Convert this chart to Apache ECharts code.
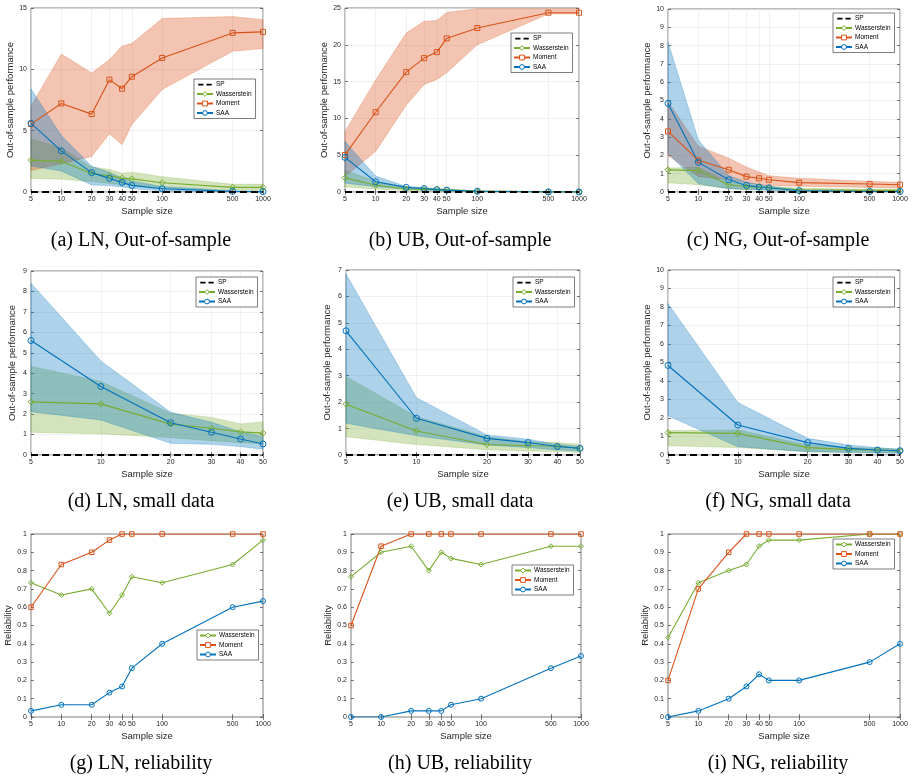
<!DOCTYPE html>
<html>
<head>
<meta charset="utf-8">
<title>Out-of-sample performance and reliability</title>
<script src="https://cdn.jsdelivr.net/npm/echarts@6/dist/echarts.min.js"></script>
<style>
  html, body { margin: 0; padding: 0; background: #fff; }
  #chart { width: 915px; height: 781px; }
</style>
</head>
<body>
<div id="chart"></div>
<script>
// sample sizes
var sampleSizes = [5, 10, 20, 30, 40, 50, 100, 500, 1000];
var smallSizes = [5, 10, 20, 30, 40, 50];
var spGap = [0, 0, 0, 0, 0, 0, 0, 0, 0];

// LN, out-of-sample (mean, upper, lower)
var lnWass   = [2.60, 2.50, 1.51, 1.31, 1.13, 1.07, 0.76, 0.38, 0.38];
var lnWassHi = [4.33, 3.60, 2.04, 1.84, 1.52, 1.62, 1.25, 0.63, 0.63];
var lnWassLo = [1.11, 1.04, 0.85, 0.70, 0.60, 0.55, 0.28, 0.16, 0.16];
var lnMom    = [5.53, 7.22, 6.35, 9.16, 8.42, 9.40, 10.93, 12.97, 13.05];
var lnMomHi  = [7.00, 11.25, 9.70, 10.80, 11.90, 12.10, 14.15, 14.30, 14.05];
var lnMomLo  = [1.75, 2.30, 2.90, 4.75, 3.85, 5.50, 8.35, 11.47, 11.70];
var lnSaa    = [5.60, 3.35, 1.58, 1.11, 0.78, 0.54, 0.27, 0.05, 0.03];
var lnSaaHi  = [8.40, 4.60, 2.09, 1.60, 1.14, 0.90, 0.45, 0.10, 0.08];
var lnSaaLo  = [2.12, 1.71, 0.57, 0.52, 0.41, 0.28, 0.10, 0.01, 0.00];

// UB, out-of-sample
var ubWass   = [1.92, 0.91, 0.40, 0.35, 0.34, 0.25, 0.12, 0.02, 0.02];
var ubWassHi = [2.97, 1.45, 0.69, 0.50, 0.47, 0.40, 0.20, 0.05, 0.05];
var ubWassLo = [0.69, 0.40, 0.20, 0.15, 0.13, 0.10, 0.04, 0.00, 0.00];
var ubMom    = [5.04, 10.84, 16.29, 18.19, 19.01, 20.87, 22.28, 24.36, 24.36];
var ubMomHi  = [8.20, 15.20, 21.60, 23.20, 23.30, 24.40, 24.90, 24.90, 24.90];
var ubMomLo  = [2.10, 5.50, 11.80, 14.60, 15.30, 16.20, 20.00, 24.20, 24.20];
var ubSaa    = [4.70, 1.39, 0.63, 0.47, 0.32, 0.25, 0.10, 0.01, 0.01];
var ubSaaHi  = [6.85, 2.17, 0.76, 0.60, 0.40, 0.33, 0.15, 0.03, 0.03];
var ubSaaLo  = [1.20, 0.73, 0.38, 0.28, 0.19, 0.15, 0.05, 0.00, 0.00];

// NG, out-of-sample
var ngWass   = [1.21, 1.17, 0.40, 0.29, 0.27, 0.22, 0.12, 0.09, 0.09];
var ngWassHi = [1.31, 1.35, 0.54, 0.40, 0.36, 0.32, 0.20, 0.15, 0.15];
var ngWassLo = [0.50, 0.40, 0.18, 0.14, 0.13, 0.11, 0.05, 0.03, 0.03];
var ngMom    = [3.31, 1.73, 1.22, 0.84, 0.75, 0.67, 0.51, 0.44, 0.40];
var ngMomHi  = [4.95, 2.50, 1.85, 1.36, 1.09, 0.89, 0.75, 0.58, 0.53];
var ngMomLo  = [2.00, 0.85, 0.67, 0.49, 0.40, 0.36, 0.31, 0.25, 0.22];
var ngSaa    = [4.84, 1.62, 0.67, 0.36, 0.27, 0.23, 0.07, 0.03, 0.03];
var ngSaaHi  = [8.19, 2.84, 0.90, 0.54, 0.40, 0.31, 0.12, 0.05, 0.05];
var ngSaaLo  = [2.12, 0.45, 0.18, 0.13, 0.11, 0.09, 0.03, 0.01, 0.01];

// reliability
var lnRelWass = [0.7333, 0.6667, 0.7000, 0.5667, 0.6667, 0.7667, 0.7333, 0.8333, 0.9667];
var lnRelMom  = [0.6000, 0.8333, 0.9000, 0.9667, 1, 1, 1, 1, 1];
var lnRelSaa  = [0.0333, 0.0667, 0.0667, 0.1333, 0.1667, 0.2667, 0.4000, 0.6000, 0.6333];
var ubRelWass = [0.7667, 0.9000, 0.9333, 0.8000, 0.9000, 0.8667, 0.8333, 0.9333, 0.9333];
var ubRelMom  = [0.5000, 0.9333, 1, 1, 1, 1, 1, 1, 1];
var ubRelSaa  = [0, 0, 0.0333, 0.0333, 0.0333, 0.0667, 0.1000, 0.2667, 0.3333];
var ngRelWass = [0.4333, 0.7333, 0.8000, 0.8333, 0.9333, 0.9667, 0.9667, 1, 1];
var ngRelMom  = [0.2000, 0.7000, 0.9000, 1, 1, 1, 1, 1, 1];
var ngRelSaa  = [0, 0.0333, 0.1000, 0.1667, 0.2333, 0.2000, 0.2000, 0.3000, 0.4000];

var captions = [
  '(a) LN, Out-of-sample', '(b) UB, Out-of-sample', '(c) NG, Out-of-sample',
  '(d) LN, small data', '(e) UB, small data', '(f) NG, small data',
  '(g) LN, reliability', '(h) UB, reliability', '(i) NG, reliability'
];

var FONT = 'Liberation Sans, Arial, Helvetica, sans-serif';
var INK = '#262626';
var BLUE = '#0072BD', ORANGE = '#D95319', GREEN = '#77AC30';
var BAND = { Wasserstein: 'rgba(119,172,48,0.32)', Moment: 'rgba(217,83,25,0.34)', SAA: 'rgba(0,114,189,0.32)' };
var EDGE = { Wasserstein: 'rgba(119,172,48,0.5)', Moment: 'rgba(217,83,25,0.5)', SAA: 'rgba(0,114,189,0.5)' };
var COLOR = { Wasserstein: GREEN, Moment: ORANGE, SAA: BLUE };
var SYMBOL = { Wasserstein: 'diamond', Moment: 'rect', SAA: 'circle' };
// two thick dashes, like the "- -" legend entry
var DASH_ICON = 'path://M0,0M18,8M0,3h7v2.4h-7zM11,3h7v2.4h-7z';

function cut(a, n) { return a.slice(0, n); }

// one entry per panel
var panels = [
  { rect: [31, 8, 232, 184], xs: sampleSizes, ymax: 15, yint: 5, grid: true, legend: [194, 79], sp: true, yname: 'Out-of-sample performance', gap: 14,
    lines: [['Wasserstein', lnWass, lnWassLo, lnWassHi], ['Moment', lnMom, lnMomLo, lnMomHi], ['SAA', lnSaa, lnSaaLo, lnSaaHi]] },
  { rect: [345, 8, 234, 184], xs: sampleSizes, ymax: 25, yint: 5, grid: true, legend: [511, 33], sp: true, yname: 'Out-of-sample performance', gap: 14,
    lines: [['Wasserstein', ubWass, ubWassLo, ubWassHi], ['Moment', ubMom, ubMomLo, ubMomHi], ['SAA', ubSaa, ubSaaLo, ubSaaHi]] },
  { rect: [668, 9, 232, 183], xs: sampleSizes, ymax: 10, yint: 1, grid: true, legend: [833, 13], sp: true, yname: 'Out-of-sample performance', gap: 14,
    lines: [['Wasserstein', ngWass, ngWassLo, ngWassHi], ['Moment', ngMom, ngMomLo, ngMomHi], ['SAA', ngSaa, ngSaaLo, ngSaaHi]] },
  { rect: [31, 271, 232, 184], xs: smallSizes, ymax: 9, yint: 1, grid: true, legend: [196, 277], sp: true, yname: 'Out-of-sample performance', gap: 14,
    lines: [['Wasserstein', cut(lnWass, 6), cut(lnWassLo, 6), cut(lnWassHi, 6)], ['SAA', cut(lnSaa, 6), cut(lnSaaLo, 6), cut(lnSaaHi, 6)]] },
  { rect: [346, 270, 234, 185], xs: smallSizes, ymax: 7, yint: 1, grid: true, legend: [513, 277], sp: true, yname: 'Out-of-sample performance', gap: 14,
    lines: [['Wasserstein', cut(ubWass, 6), cut(ubWassLo, 6), cut(ubWassHi, 6)], ['SAA', cut(ubSaa, 6), cut(ubSaaLo, 6), cut(ubSaaHi, 6)]] },
  { rect: [668, 270, 232, 185], xs: smallSizes, ymax: 10, yint: 1, grid: true, legend: [833, 277], sp: true, yname: 'Out-of-sample performance', gap: 14,
    lines: [['Wasserstein', cut(ngWass, 6), cut(ngWassLo, 6), cut(ngWassHi, 6)], ['SAA', cut(ngSaa, 6), cut(ngSaaLo, 6), cut(ngSaaHi, 6)]] },
  { rect: [31, 534, 232, 183], xs: sampleSizes, ymax: 1, yint: 0.1, grid: false, legend: [197, 630], sp: false, yname: 'Reliability', gap: 16,
    lines: [['Wasserstein', lnRelWass], ['Moment', lnRelMom], ['SAA', lnRelSaa]] },
  { rect: [351, 534, 230, 183], xs: sampleSizes, ymax: 1, yint: 0.1, grid: false, legend: [512, 565], sp: false, yname: 'Reliability', gap: 16,
    lines: [['Wasserstein', ubRelWass], ['Moment', ubRelMom], ['SAA', ubRelSaa]] },
  { rect: [668, 534, 232, 183], xs: sampleSizes, ymax: 1, yint: 0.1, grid: false, legend: [833, 539], sp: false, yname: 'Reliability', gap: 16,
    lines: [['Wasserstein', ngRelWass], ['Moment', ngRelMom], ['SAA', ngRelSaa]] }
];
var captionX = [141, 460, 778];
var captionY = [241, 502, 764];

var grids = [], xAxes = [], yAxes = [], series = [], legends = [], graphics = [];

panels.forEach(function (p, i) {
  var xmax = p.xs[p.xs.length - 1];
  var tickStyle = { color: INK, width: 0.6 };
  grids.push({ left: p.rect[0], top: p.rect[1], width: p.rect[2], height: p.rect[3],
    show: true, borderColor: INK, borderWidth: 0.6, backgroundColor: 'transparent' });

  xAxes.push({
    type: 'log', logBase: 10, min: 5, max: xmax, gridIndex: i, position: 'bottom',
    name: 'Sample size', nameLocation: 'middle', nameGap: 14,
    nameTextStyle: { fontSize: 9.5, color: INK, fontFamily: FONT },
    axisLine: { show: false },
    axisTick: { inside: true, length: 3, customValues: p.xs, lineStyle: tickStyle },
    minorTick: { show: false },
    axisLabel: { customValues: p.xs, fontSize: 7, margin: 4, color: INK, fontFamily: FONT,
      formatter: function (v) { return String(Math.round(v)); } },
    splitLine: { show: p.grid, lineStyle: { color: '#e6e6e6', width: 0.6 } }
  });
  xAxes.push({
    type: 'log', logBase: 10, min: 5, max: xmax, gridIndex: i, position: 'top',
    axisLine: { show: false },
    axisTick: { inside: true, length: 3, customValues: p.xs, lineStyle: tickStyle },
    axisLabel: { show: false }, splitLine: { show: false }
  });
  yAxes.push({
    type: 'value', min: 0, max: p.ymax, interval: p.yint, gridIndex: i, position: 'left',
    name: p.yname, nameLocation: 'middle', nameGap: p.gap,
    nameTextStyle: { fontSize: 9.5, color: INK, fontFamily: FONT },
    axisLine: { show: false },
    axisTick: { inside: true, length: 3, lineStyle: tickStyle },
    axisLabel: { fontSize: 7, margin: 4, color: INK, fontFamily: FONT },
    splitLine: { show: p.grid, lineStyle: { color: '#e6e6e6', width: 0.6 } }
  });
  yAxes.push({
    type: 'value', min: 0, max: p.ymax, interval: p.yint, gridIndex: i, position: 'right',
    axisLine: { show: false },
    axisTick: { inside: true, length: 3, lineStyle: tickStyle },
    axisLabel: { show: false }, splitLine: { show: false }
  });

  var xi = 2 * i, yi = 2 * i;
  var names = [];

  // shaded bands
  p.lines.forEach(function (l) {
    if (!l[2]) return;
    var lo = l[2], hi = l[3], key = l[0], xs = p.xs;
    series.push({
      type: 'custom', name: key + ' band', xAxisIndex: xi, yAxisIndex: yi, silent: true, z: 1,
      data: xs.map(function (x, k) { return [x, lo[k], hi[k]]; }),
      encode: { x: 0, y: [1, 2] },
      renderItem: function (params, api) {
        if (params.dataIndex !== 0) return null;
        var pts = [];
        for (var k = 0; k < xs.length; k++) pts.push(api.coord([xs[k], hi[k]]));
        for (var k2 = xs.length - 1; k2 >= 0; k2--) pts.push(api.coord([xs[k2], lo[k2]]));
        return { type: 'polygon', shape: { points: pts },
          style: { fill: BAND[key], stroke: EDGE[key], lineWidth: 0.5 } };
      }
    });
  });

  if (p.sp) {
    names.push({ name: 'SP', icon: DASH_ICON, itemStyle: { color: '#000', borderWidth: 0 } });
    series.push({
      type: 'line', name: 'SP', xAxisIndex: xi, yAxisIndex: yi, z: 4,
      data: p.xs.map(function (x, k) { return [x, spGap[k]]; }),
      symbol: 'none', color: '#000',
      lineStyle: { color: '#000', width: 2, type: [7, 4] }
    });
  }

  var small = !p.sp;
  p.lines.forEach(function (l) {
    var key = l[0], ys = l[1];
    names.push({ name: key, itemStyle: { color: '#fff', borderColor: COLOR[key], borderWidth: 1 } });
    series.push({
      type: 'line', name: key, xAxisIndex: xi, yAxisIndex: yi, z: 3,
      data: p.xs.map(function (x, k) { return [x, ys[k]]; }),
      symbol: SYMBOL[key],
      symbolSize: key === 'Moment' ? (small ? 4.5 : 5) : (small ? 5 : 6),
      color: COLOR[key],
      itemStyle: { color: 'rgba(255,255,255,0)', borderColor: COLOR[key], borderWidth: 1 },
      lineStyle: { color: COLOR[key], width: 1.1 }
    });
  });

  legends.push({
    left: p.legend[0], top: p.legend[1], orient: 'vertical', data: names,
    itemWidth: 16, itemHeight: 6, itemGap: 2.5, padding: [2, 4, 2, 2],
    backgroundColor: '#fff', borderColor: INK, borderWidth: 0.6, selectedMode: false,
    textStyle: { fontSize: 6.5, color: '#000', fontFamily: FONT, padding: [0, 0, 0, -2] }
  });

  graphics.push({
    type: 'text', x: captionX[i % 3], y: captionY[Math.floor(i / 3)],
    style: { text: captions[i], font: '20px "Liberation Serif", "DejaVu Serif", serif',
      fill: '#000', textAlign: 'center', textVerticalAlign: 'middle' }
  });
});

var chart = echarts.init(document.getElementById('chart'), null, { renderer: 'canvas' });
chart.setOption({
  animation: false,
  backgroundColor: '#fff',
  grid: grids,
  xAxis: xAxes,
  yAxis: yAxes,
  legend: legends,
  series: series,
  graphic: graphics
});
</script>
</body>
</html>
